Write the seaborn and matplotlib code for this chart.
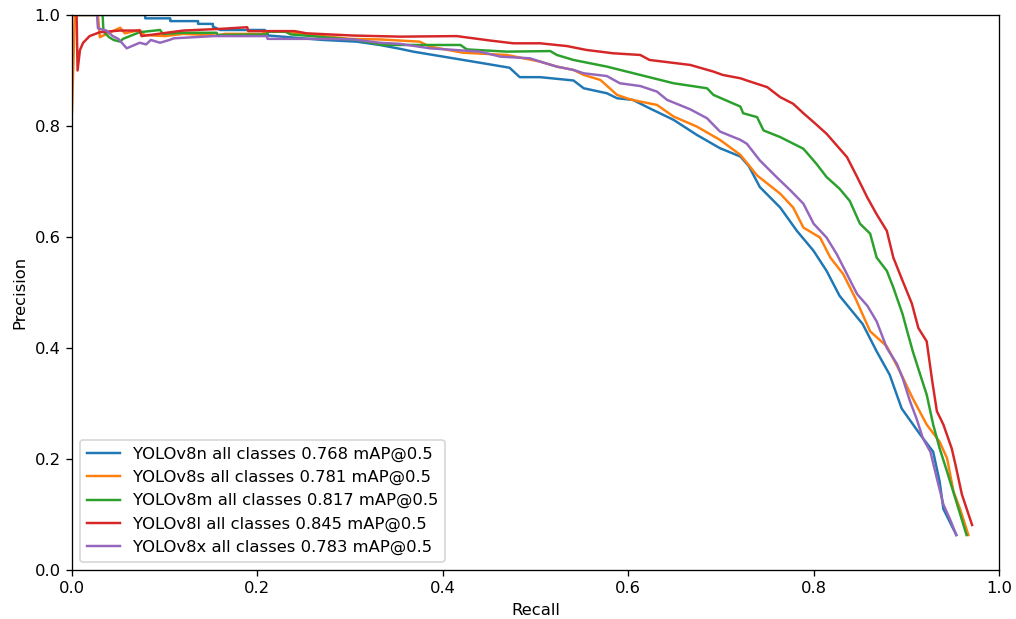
import numpy as np
import pandas as pd
import matplotlib
matplotlib.use("Agg")
import matplotlib.pyplot as plt
import seaborn as sns

labels = [
    "YOLOv8n all classes 0.768 mAP@0.5",
    "YOLOv8s all classes 0.781 mAP@0.5",
    "YOLOv8m all classes 0.817 mAP@0.5",
    "YOLOv8l all classes 0.845 mAP@0.5",
    "YOLOv8x all classes 0.783 mAP@0.5",
]

recall_n = [0, 0.079, 0.079, 0.106, 0.106, 0.136, 0.136, 0.152, 0.152, 0.160, 0.208, 0.212, 0.271, 0.307,
            0.332, 0.354, 0.368, 0.404, 0.44, 0.472, 0.483, 0.505, 0.541, 0.552, 0.577, 0.588, 0.605, 0.623,
            0.649, 0.674, 0.699, 0.721, 0.73, 0.742, 0.764, 0.782, 0.800, 0.814, 0.828, 0.853, 0.868, 0.882,
            0.895, 0.915, 0.929, 0.936, 0.940, 0.954]
precision_n = [1.0, 1.0, 0.994, 0.994, 0.989, 0.989, 0.984, 0.984, 0.979, 0.973, 0.973, 0.963, 0.955, 0.952,
               0.946, 0.939, 0.934, 0.924, 0.914, 0.905, 0.888, 0.888, 0.882, 0.868, 0.859, 0.850, 0.847,
               0.832, 0.811, 0.784, 0.760, 0.745, 0.728, 0.690, 0.653, 0.611, 0.575, 0.539, 0.494, 0.443,
               0.394, 0.352, 0.291, 0.244, 0.213, 0.159, 0.110, 0.063]

recall_s = [0, 0.003, 0.028, 0.030, 0.040, 0.052, 0.057, 0.073, 0.078, 0.10, 0.12, 0.156, 0.165, 0.205,
            0.21, 0.23, 0.253, 0.30, 0.332, 0.375, 0.386, 0.422, 0.469, 0.505, 0.523, 0.541, 0.552, 0.570,
            0.588, 0.602, 0.613, 0.631, 0.649, 0.674, 0.699, 0.721, 0.739, 0.764, 0.778, 0.789, 0.807, 0.818,
            0.832, 0.845, 0.861, 0.879, 0.893, 0.907, 0.922, 0.936, 0.944, 0.951, 0.958, 0.967]
precision_s = [0.825, 1.0, 1.0, 0.96, 0.968, 0.977, 0.967, 0.973, 0.964, 0.962, 0.966, 0.963, 0.966, 0.966,
               0.970, 0.970, 0.965, 0.957, 0.956, 0.952, 0.943, 0.932, 0.928, 0.916, 0.907, 0.901, 0.892,
               0.883, 0.856, 0.848, 0.844, 0.838, 0.817, 0.799, 0.775, 0.748, 0.711, 0.678, 0.653, 0.617,
               0.599, 0.563, 0.533, 0.490, 0.430, 0.403, 0.358, 0.309, 0.262, 0.231, 0.201, 0.141, 0.110,
               0.063]

recall_m = [0.033, 0.034, 0.040, 0.045, 0.052, 0.055, 0.073, 0.095, 0.098, 0.12, 0.156, 0.157, 0.21, 0.211,
            0.23, 0.236, 0.258, 0.307, 0.335, 0.368, 0.419, 0.426, 0.469, 0.516, 0.523, 0.541, 0.577, 0.613,
            0.649, 0.685, 0.692, 0.721, 0.724, 0.739, 0.746, 0.764, 0.789, 0.803, 0.814, 0.828, 0.839, 0.850,
            0.861, 0.868, 0.879, 0.886, 0.896, 0.901, 0.907, 0.915, 0.922, 0.929, 0.936, 0.944, 0.954, 0.965]
precision_m = [1.0, 0.97, 0.96, 0.955, 0.952, 0.957, 0.969, 0.973, 0.966, 0.968, 0.968, 0.964, 0.965, 0.970,
               0.970, 0.965, 0.962, 0.955, 0.946, 0.946, 0.946, 0.938, 0.934, 0.935, 0.928, 0.919, 0.907,
               0.892, 0.877, 0.868, 0.856, 0.835, 0.823, 0.816, 0.792, 0.780, 0.759, 0.732, 0.708, 0.687,
               0.665, 0.624, 0.606, 0.563, 0.539, 0.509, 0.461, 0.430, 0.394, 0.352, 0.316, 0.262, 0.219,
               0.177, 0.123, 0.063]

recall_l = [0, 0.005, 0.006, 0.0086, 0.012, 0.019, 0.030, 0.052, 0.073, 0.075, 0.12, 0.16, 0.189, 0.19,
            0.24, 0.253, 0.303, 0.354, 0.415, 0.451, 0.476, 0.505, 0.534, 0.555, 0.584, 0.613, 0.623, 0.667,
            0.692, 0.702, 0.721, 0.728, 0.750, 0.764, 0.778, 0.789, 0.800, 0.814, 0.825, 0.836, 0.847, 0.858,
            0.868, 0.879, 0.886, 0.896, 0.906, 0.913, 0.922, 0.928, 0.933, 0.940, 0.949, 0.953, 0.960, 0.971]
precision_l = [1.0, 1.0, 0.90, 0.937, 0.95, 0.962, 0.969, 0.972, 0.972, 0.962, 0.972, 0.975, 0.978, 0.971,
               0.971, 0.967, 0.963, 0.961, 0.962, 0.954, 0.949, 0.949, 0.944, 0.937, 0.931, 0.928, 0.919,
               0.910, 0.898, 0.892, 0.886, 0.882, 0.870, 0.852, 0.840, 0.823, 0.807, 0.786, 0.765, 0.744,
               0.708, 0.671, 0.641, 0.611, 0.563, 0.521, 0.480, 0.436, 0.412, 0.340, 0.286, 0.262, 0.219,
               0.190, 0.136, 0.081]

recall_x = [0.027, 0.028, 0.037, 0.044, 0.05, 0.059, 0.073, 0.080, 0.085, 0.095, 0.105, 0.11, 0.153, 0.21,
            0.211, 0.275, 0.303, 0.332, 0.354, 0.386, 0.44, 0.462, 0.494, 0.505, 0.523, 0.541, 0.552, 0.577,
            0.591, 0.613, 0.631, 0.642, 0.667, 0.685, 0.699, 0.721, 0.728, 0.742, 0.760, 0.775, 0.789, 0.800,
            0.814, 0.825, 0.836, 0.847, 0.858, 0.868, 0.879, 0.890, 0.896, 0.904, 0.911, 0.918, 0.926, 0.933,
            0.940, 0.947, 0.954]
precision_x = [1.0, 0.976, 0.972, 0.962, 0.957, 0.940, 0.950, 0.947, 0.955, 0.950, 0.955, 0.958, 0.962,
               0.962, 0.957, 0.957, 0.956, 0.950, 0.948, 0.940, 0.934, 0.925, 0.922, 0.916, 0.907, 0.901,
               0.895, 0.890, 0.877, 0.872, 0.862, 0.847, 0.830, 0.814, 0.790, 0.775, 0.768, 0.738, 0.708,
               0.684, 0.660, 0.624, 0.599, 0.569, 0.533, 0.497, 0.476, 0.448, 0.400, 0.371, 0.346, 0.304,
               0.273, 0.237, 0.213, 0.165, 0.118, 0.092, 0.063]

recalls = [recall_n, recall_s, recall_m, recall_l, recall_x]
precisions = [precision_n, precision_s, precision_m, precision_l, precision_x]

frames = []
for lab, r, p in zip(labels, recalls, precisions):
    frames.append(pd.DataFrame({"Recall": r, "Precision": p, "model": lab}))
df = pd.concat(frames, ignore_index=True)

DPI = 118
fig = plt.figure(figsize=(1016 / DPI, 619 / DPI), dpi=DPI)
ax = fig.add_axes([72 / 1016, 1 - 570 / 619, (999 - 72) / 1016, (570 - 15) / 619])

palette = sns.color_palette("tab10", 5)
sns.lineplot(data=df, x="Recall", y="Precision", hue="model", hue_order=labels,
             palette=palette, sort=False, estimator=None, linewidth=1.5, ax=ax)

ax.set_xlim(0, 1)
ax.set_ylim(0, 1)
ax.set_xlabel("Recall")
ax.set_ylabel("Precision")
handles, labs = ax.get_legend_handles_labels()
ax.legend(handles, labs, loc="lower left")

fig.savefig("out.png", dpi=DPI)
